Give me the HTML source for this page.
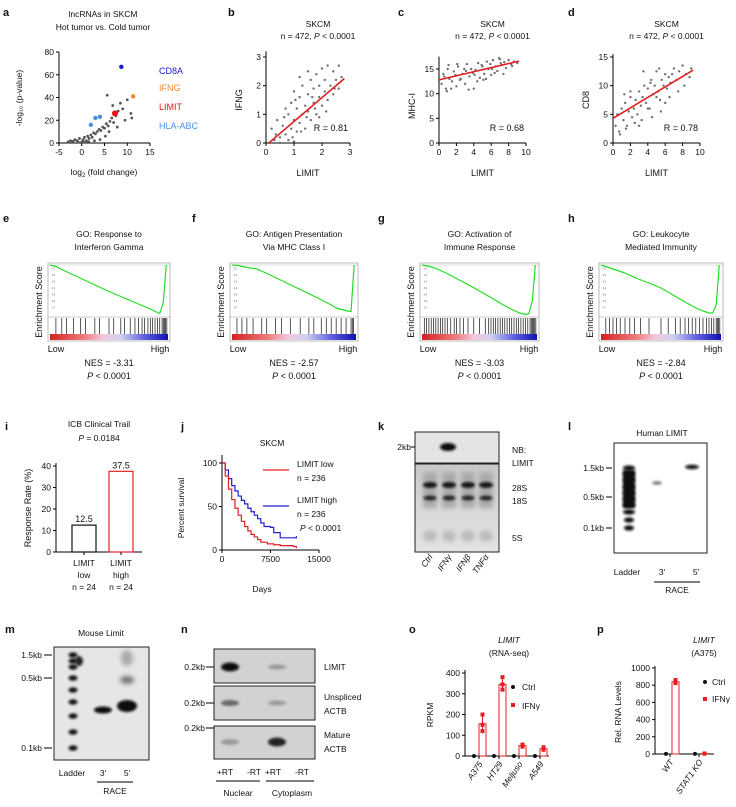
<!DOCTYPE html>
<html><head><meta charset="utf-8"><style>
body{margin:0;background:#fff}
svg{display:block;font-family:"Liberation Sans",Arial,sans-serif}
</style></head><body>
<svg id="fig" width="736" height="807" viewBox="0 0 736 807" xmlns="http://www.w3.org/2000/svg">
<defs>
<filter id="blur1" x="-50%" y="-50%" width="200%" height="200%"><feGaussianBlur stdDeviation="1.2"/></filter>
<filter id="blur2" x="-50%" y="-50%" width="200%" height="200%"><feGaussianBlur stdDeviation="2.5"/></filter>
<linearGradient id="rankbar" x1="0" x2="1" y1="0" y2="0">
<stop offset="0" stop-color="#d42020"/><stop offset="0.3" stop-color="#ee8080"/><stop offset="0.45" stop-color="#f2c8dc"/><stop offset="0.6" stop-color="#d0d0f0"/><stop offset="0.8" stop-color="#6060e0"/><stop offset="1" stop-color="#1010b0"/>
</linearGradient>
<linearGradient id="gelbg" x1="0" x2="0" y1="0" y2="1">
<stop offset="0" stop-color="#c8c8c8"/><stop offset="0.5" stop-color="#d8d8d8"/><stop offset="1" stop-color="#e4e4e4"/>
</linearGradient>
</defs>
</svg>
<script>
// ---------- data ----------
const volX=[-3,-2.5,-2,-1.5,-1,-0.5,0,0.3,0.6,1,1.3,1.6,2,2.3,2.6,3,3.4,3.8,4.2,4.6,5,5.4,5.8,6.2,6.6,7,7.5,8,8.5,9,9.5,10,11,-1.8,-0.8,0.5,1.5,2.8,4,5.2,6,7.8,10.8,5.6,6.8];
const volY=[1,2,1.5,3,2,4,1,3,5,2,6,4,7,5,9,8,10,12,11,14,13,17,15,19,22,18,24,28,35,30,20,38,22,0.5,1,0.6,1.2,2,3,6,10,14,26,42,33];
const hlX=[8.7,11.3,7.3,2,3,4];
const hlY=[67,41,26,16,22,23];
const hlC=['#1a1acc','#f08a30','#e8141c','#4a90e2','#4a90e2','#4a90e2'];
const bX=[0.2,0.3,0.4,0.5,0.6,0.7,0.8,0.8,0.9,0.9,1.0,1.0,1.1,1.1,1.2,1.2,1.3,1.3,1.4,1.4,1.5,1.5,1.6,1.6,1.7,1.7,1.8,1.8,1.9,1.9,2.0,2.0,2.1,2.1,2.2,2.3,2.4,2.4,2.5,2.6,2.6,2.7,0.15,0.5,1.0,1.2,0.7,1.5,1.9,2.2,0.35,0.65,1.05,1.45,1.75,2.15,2.45,0.95,1.25,1.65];
const bY=[0.5,0.1,0.8,0.2,0.6,0.3,1.0,0.1,0.5,1.4,0.8,1.8,0.4,1.2,1.6,0.7,1.0,2.0,1.3,0.5,1.7,1.1,0.8,2.2,1.4,1.9,1.0,2.4,1.6,2.0,1.3,2.6,1.8,2.2,1.5,2.0,2.5,1.7,2.2,2.7,1.9,2.3,0.0,0.0,0.05,2.3,1.2,2.5,0.9,2.7,0.3,0.9,1.5,0.9,1.2,1.1,1.9,0.2,0.4,1.6];
const cX=[0.3,0.5,0.8,1,1.2,1.5,1.7,2,2.2,2.5,2.7,3,3.2,3.5,3.7,4,4.2,4.5,4.7,5,5.2,5.5,5.7,6,6.2,6.5,6.7,7,7.2,7.5,7.7,8,8.3,8.6,9,0.6,1.4,2.4,3.4,4.4,5.4,6.4,7.4,8.4,1.1,2.1,3.1,4.1,5.1,6.1,7.1,0.9,1.9,2.9,3.9,4.9,5.9,6.9];
const cY=[12,14,11,15,13,12.5,14.5,11.5,15.5,13,14,12,16,13.5,15,11,14.8,16.2,13.2,15.5,14,16.5,15,13.8,16.8,15.5,14.6,17,15.8,16.4,15.2,16.8,16,16.5,16.2,13.5,11,12.8,10.8,12.5,13,14.2,14,15.6,15.8,16,14.6,13.8,12.8,15,16.2,10.5,13.8,15,14.2,15.8,16,17.2];
const dX=[0.3,0.5,0.7,1,1.2,1.4,1.6,1.8,2,2.2,2.4,2.6,2.8,3,3.2,3.4,3.6,3.8,4,4.2,4.4,4.6,4.8,5,5.2,5.4,5.6,5.8,6,6.2,6.4,6.6,6.8,7,7.3,7.6,8,8.4,8.8,9,0.8,1.5,2.5,3.5,4.5,5.5,6.5,7.5,3,4,5,6,2,1.3,3.3,8.2,4.3,5.3];
const dY=[3,5,2,6,4,7,3,5.5,8,4.5,6,7.5,5,9,6.5,8,10,7,9.5,6,11,8.5,10,12.5,9,7.5,11,10,12,9.5,11.5,10.5,12,13,11,12.5,13.5,12,11.5,13,1.5,2.5,3.5,12.5,4.5,5.5,8,9,3,6,8,7,9,8.5,4,10,10.5,13];
const bFit=[0.1,0,2.8,2.25], cFit=[0,12.8,9.2,16.6], dFit=[0,4.3,9.2,12.7];
const gsX=[0,0.05,0.1,0.2,0.3,0.4,0.5,0.6,0.7,0.8,0.85,0.9,0.93,0.96,0.985];
const esE=[0,-0.03,-0.09,-0.2,-0.31,-0.42,-0.53,-0.63,-0.73,-0.83,-0.88,-0.94,-0.97,-0.75,0];
const esF=[0,-0.01,-0.04,-0.08,-0.19,-0.31,-0.43,-0.55,-0.67,-0.8,-0.87,-0.9,-0.92,-0.93,0];
const esG=[0,-0.02,-0.05,-0.15,-0.27,-0.39,-0.52,-0.65,-0.79,-0.91,-0.96,-0.99,-0.97,-0.7,0];
const esH=[0,-0.04,-0.08,-0.16,-0.27,-0.36,-0.46,-0.6,-0.74,-0.87,-0.92,-0.96,-0.96,-0.8,0];
const hitE=[0.05,0.1,0.14,0.2,0.26,0.3,0.38,0.42,0.5,0.54,0.6,0.63,0.68,0.72,0.75,0.78,0.8,0.83,0.85,0.87,0.89,0.91,0.93,0.95,0.96,0.97,0.98,0.99];
const hitF=[0.04,0.08,0.12,0.17,0.24,0.28,0.35,0.4,0.47,0.55,0.62,0.66,0.72,0.76,0.8,0.84,0.88,0.92,0.96,0.97,0.98];
const hitG=[0.02,0.04,0.06,0.08,0.1,0.12,0.14,0.16,0.18,0.2,0.22,0.25,0.28,0.3,0.33,0.36,0.4,0.45,0.5,0.55,0.58,0.6,0.62,0.64,0.66,0.68,0.7,0.72,0.74,0.76,0.78,0.8,0.82,0.84,0.86,0.88,0.9,0.92,0.94,0.95,0.96,0.97,0.98,0.99];
const hitH=[0.04,0.07,0.1,0.13,0.16,0.2,0.24,0.28,0.33,0.4,0.5,0.56,0.62,0.66,0.7,0.73,0.76,0.79,0.82,0.85,0.88,0.9,0.92,0.94,0.96,0.97,0.98,0.99];
const icbCats=['low','high'];
const icbVals=[12.5,37.5];
const kmLowT=[0,500,1000,1500,2000,2500,3000,3500,4000,4500,5000,5500,6000,7000,8000,9000,11000,11500];
const kmLowS=[100,85,70,58,48,40,33,27,22,18,15,12,9,7,6,5,4,2];
const kmHighT=[0,500,1000,1500,2000,2500,3000,3500,4000,4500,5000,5500,6000,6500,7500,8000,9000,11500];
const kmHighS=[100,92,82,74,68,62,57,53,48,44,40,36,31,27,26,20,14,16];
const oCats=['A375','HT29','Meljuso','A549'];
const oIfnMean=[155,345,50,35];
const oIfnPts=[[200,150,120],[380,345,320],[55,48,45],[42,35,30]];
const oCtrl=[0,0,0,0];
const pCats=['WT','STAT1 KO'];
const pIfnMean=[840,5];
const pIfnPts=[[860,850,825],[5,6,4]];
const pCtrl=[1,1];

// ---------- helpers ----------
const NS='http://www.w3.org/2000/svg';
const svg=document.getElementById('fig');
function mk(tag,attrs,name,parent){
  const el=document.createElementNS(NS,tag);
  for(const k in attrs) el.setAttribute(k,attrs[k]);
  
  
  (parent||svg).appendChild(el);return el;
}
function T(x,y,s,name,o){
  o=o||{};
  const el=mk('text',{x:x,y:y,'font-size':o.fs||8.5,'text-anchor':o.a||'middle',fill:o.c||'#111','font-weight':o.b?'bold':'normal','font-style':o.i?'italic':'normal'},name);
  if(o.rot!==undefined) el.setAttribute('transform','rotate('+o.rot+' '+x+' '+y+')');
  el.textContent=s;return el;
}
function L(x1,y1,x2,y2,name,c,w){return mk('line',{x1:x1,y1:y1,x2:x2,y2:y2,stroke:c||'#000','stroke-width':w||1},name);}
function lin(d0,d1,r0,r1){return v=>r0+(v-d0)/(d1-d0)*(r1-r0);}
function axes(xs,ys,xd,yd,xt,yt,pre){
  const X0=xs(xd[0]),X1=xs(xd[1]),Y0=ys(yd[0]),Y1=ys(yd[1]);
  L(X0,Y0,X1,Y0,pre+'-x-axis');L(X0,Y0,X0,Y1,pre+'-y-axis');
  xt.forEach(v=>{L(xs(v),Y0,xs(v),Y0+3,pre+'-x-tick');T(xs(v),Y0+12,String(v),pre+'-x-tick-label');});
  yt.forEach(v=>{L(X0-3,ys(v),X0,ys(v),pre+'-y-tick');T(X0-5,ys(v)+3,String(v),pre+'-y-tick-label',{a:'end'});});
}
function letter(x,y,s){T(x,y,s,'panel-label-'+s,{a:'start',b:true,fs:11});}

// ---------- a ----------
letter(3,16,'a');
T(103,17,'lncRNAs in SKCM','a-title-1');T(103,30,'Hot tumor vs. Cold tumor','a-title-2');
{const xs=lin(-5,15,59,150),ys=lin(0,80,143,52);
axes(xs,ys,[-5,15],[0,80],[-5,0,5,10,15],[0,20,40,60,80],'a');
volX.forEach((v,i)=>mk('circle',{cx:xs(v),cy:ys(volY[i]),r:1.4,fill:'#555'},'volcano-point'));
hlX.forEach((v,i)=>mk('circle',{cx:xs(v),cy:ys(hlY[i]),r:i==2?3:2.2,fill:hlC[i]},'volcano-highlight'));
const xt=T(104,175,'','a-x-title');xt.innerHTML='log<tspan font-size="6" dy="2">2</tspan><tspan dy="-2"> (fold change)</tspan>';
T(22,98,'-log₁₀ (p-value)','a-y-title',{rot:-90});
[['CD8A','#1a1acc',74],['IFNG','#f08a30',91],['LIMIT','#e8141c',110],['HLA-ABC','#4a90e2',129]].forEach(d=>T(159,d[2],d[0],'legend-entry',{a:'start',c:d[1],fs:9}));}

// ---------- scatter b,c,d ----------
function scatter(lbl,lx,xr,yr,px,py,xt,yt,xs_,ys_,fit,yl,rtxt){
  letter(lx,16,lbl);
  const cx=(px[0]+px[1])/2;
  T(cx+10,27,'SKCM',lbl+'-title');
  const t=T(cx+10,39,'',lbl+'-subtitle');t.innerHTML='n = 472, <tspan font-style="italic">P</tspan> &lt; 0.0001';
  const xs=lin(xr[0],xr[1],px[0],px[1]),ys=lin(yr[0],yr[1],py[0],py[1]);
  axes(xs,ys,[xr[0],xt[xt.length-1]],[yr[0],yr[2]],xt,yt,lbl);
  xs_.forEach((v,i)=>mk('circle',{cx:xs(v),cy:ys(ys_[i]),r:1.2,fill:'#707070'},'scatter-point'));
  L(xs(fit[0]),ys(fit[1]),xs(fit[2]),ys(fit[3]),'regression-line','#e02020',1.6);
  T(px[1]-2,ys(yr[0])-12,rtxt,lbl+'-r-value',{a:'end',fs:9});
  T(cx,176,'LIMIT',lbl+'-x-title',{fs:9});
  T(px[0]-24,(py[0]+py[1])/2,yl,lbl+'-y-title',{rot:-90,fs:9});
}
scatter('b',228,[0,3],[0,3,3.2],[266,350],[143,57],[0,1,2,3],[0,1,2,3],bX,bY,bFit,'IFNG','R = 0.81');
scatter('c',398,[0,10],[0,15,17.5],[439,526],[143,69],[0,2,4,6,8,10],[0,5,10,15],cX,cY,cFit,'MHC-I','R = 0.68');
scatter('d',568,[0,10],[0,15,15.5],[613,700],[143,57],[0,2,4,6,8,10],[0,5,10,15],dX,dY,dFit,'CD8','R = 0.78');

// ---------- GSEA e-h ----------
function gsea(lbl,lx,x0,x1,t1,t2,es,hits,nes){
  letter(lx,222,lbl);
  const cx=(x0+x1)/2;
  T(cx,237,t1,lbl+'-title-1');T(cx,250,t2,lbl+'-title-2');
  mk('rect',{x:x0,y:263,width:x1-x0,height:78,fill:'#fff',stroke:'#aaa','stroke-width':0.8},lbl+'-plot-box');
  L(x0,317,x1,317,lbl+'-divider','#999',0.6);
  const xs=lin(0,1,x0+2,x1-2),ys=lin(0,-1,265,315);
  for(let k=1;k<8;k++)T(x0+3,263+k*6.5,'-0.'+k,lbl+'-es-tick',{fs:2.5,a:'start',c:'#666'});
  L(x0,265,x1,265,lbl+'-zero-line','#bbb',0.5);
  mk('polyline',{points:gsX.map((v,i)=>xs(v)+','+ys(es[i])).join(' '),fill:'none',stroke:'#22dd22','stroke-width':1.2},lbl+'-es-curve');
  hits.forEach(h=>L(xs(h),318,xs(h),334,'hit-mark','#111',0.7));
  mk('rect',{x:x0+2,y:334,width:x1-x0-4,height:6,fill:'url(#rankbar)'},lbl+'-rank-bar');
  T(x0-6,302,'Enrichment Score',lbl+'-y-title',{rot:-90,fs:9});
  T(x0+8,352,'Low',lbl+'-low-label',{fs:9});T(x1-10,352,'High',lbl+'-high-label',{fs:9});
  T(cx,366,'NES = '+nes,lbl+'-nes',{fs:9});
  const p=T(cx,379,'',lbl+'-pvalue',{fs:9});p.innerHTML='<tspan font-style="italic">P</tspan> &lt; 0.0001';
}
gsea('e',3,48,170,'GO: Response to','Interferon Gamma',esE,hitE,'-3.31');
gsea('f',192,230,358,'GO: Antigen Presentation','Via MHC Class I',esF,hitF,'-2.57');
gsea('g',378,420,539,'GO: Activation of','Immune Response',esG,hitG,'-3.03');
gsea('h',568,599,723,'GO: Leukocyte','Mediated Immunity',esH,hitH,'-2.84');

// ---------- i ----------
letter(5,430,'i');
T(99,427,'ICB Clinical Trail','i-title');
{const t=T(99,441,'','i-pvalue');t.innerHTML='<tspan font-style="italic">P</tspan> = 0.0184';
const ys=lin(0,40,552,466);
L(56,552,56,463,'i-y-axis');L(56,552,142,552,'i-x-axis');
[0,10,20,30,40].forEach(v=>{L(53,ys(v),56,ys(v),'i-y-tick');T(51,ys(v)+3,String(v),'i-y-tick-label',{a:'end'});});
const bx=[72,109],bc=['#222','#e83030'];
icbVals.forEach((v,k)=>{mk('rect',{x:bx[k],y:ys(v),width:24,height:552-ys(v),fill:'#fff',stroke:bc[k],'stroke-width':1.3},'bar-'+icbCats[k]);
T(bx[k]+12,ys(v)-3,String(v),'bar-value-label',{fs:9});
L(bx[k]+12,552,bx[k]+12,555,'i-x-tick');
T(bx[k]+12,566,'LIMIT','i-x-label');T(bx[k]+12,578,icbCats[k],'i-x-label');T(bx[k]+12,590,'n = 24','i-x-label');});
T(31,508,'Response Rate (%)','i-y-title',{rot:-90,fs:9});}

// ---------- j ----------
letter(181,430,'j');
T(272,446,'SKCM','j-title');
{const xs=lin(0,15000,222,319),ys=lin(0,100,550,463);
L(222,550,319,550,'j-x-axis');L(222,550,222,455,'j-y-axis');
[0,7500,15000].forEach(v=>{L(xs(v),550,xs(v),553,'j-x-tick');T(xs(v),562,String(v),'j-x-tick-label');});
[0,50,100].forEach(v=>{L(219,ys(v),222,ys(v),'j-y-tick');T(217,ys(v)+3,String(v),'j-y-tick-label',{a:'end'});});
function step(t,s){let p='';t.forEach((v,i)=>{if(i==0)p+=xs(v)+','+ys(s[i]);else p+=' '+xs(v)+','+ys(s[i-1])+' '+xs(v)+','+ys(s[i]);});return p;}
mk('polyline',{points:step(kmHighT,kmHighS),fill:'none',stroke:'#2020d0','stroke-width':1.2},'km-curve-high');
mk('polyline',{points:step(kmLowT,kmLowS),fill:'none',stroke:'#e02020','stroke-width':1.2},'km-curve-low');
L(263,470,289,470,'legend-line-low','#e02020',1.2);L(263,506,289,506,'legend-line-high','#2020d0',1.2);
T(297,467,'LIMIT low','legend-entry',{a:'start'});T(297,481,'n = 236','legend-entry',{a:'start'});
T(297,503,'LIMIT high','legend-entry',{a:'start'});T(297,517,'n = 236','legend-entry',{a:'start'});
const p=T(300,531,'','j-pvalue',{a:'start'});p.innerHTML='<tspan font-style="italic">P</tspan> &lt; 0.0001';
T(262,592,'Days','j-x-title');T(184,508,'Percent survival','j-y-title',{rot:-90});}

// ---------- k ----------
letter(378,430,'k');
mk('rect',{x:415,y:432,width:84,height:31,fill:'#e4e4e4',stroke:'#222'},'k-northern-blot');
mk('ellipse',{cx:448,cy:447,rx:8,ry:4,fill:'#111',filter:'url(#blur1)'},'k-limit-band');
T(411,450,'2kb','k-size-label',{a:'end'});L(411,447,415,447,'k-size-tick');
T(512,453,'NB:','k-nb-label',{a:'start'});T(512,466,'LIMIT','k-nb-label',{a:'start'});
mk('rect',{x:415,y:464,width:84,height:88,fill:'url(#gelbg)',stroke:'#222'},'k-rrna-gel');
[430,449,468,486].forEach(x=>{
  mk('rect',{x:x-7,y:472,width:14,height:36,fill:'#aaa',filter:'url(#blur2)'},'k-smear');
  mk('ellipse',{cx:x,cy:485,rx:7,ry:3,fill:'#151515',filter:'url(#blur1)'},'k-28s-band');
  mk('ellipse',{cx:x,cy:498,rx:6.5,ry:2.5,fill:'#252525',filter:'url(#blur1)'},'k-18s-band');
  mk('ellipse',{cx:x,cy:536,rx:7,ry:6,fill:'#bcbcbc',filter:'url(#blur2)'},'k-5s-band');});
T(512,491,'28S','k-28s-label',{a:'start'});T(512,504,'18S','k-18s-label',{a:'start'});T(512,541,'5S','k-5s-label',{a:'start'});
[['Ctrl',430],['IFNγ',449],['IFNβ',468],['TNFα',486]].forEach(d=>T(d[1]+3,557,d[0],'k-lane-label',{a:'end',i:true,rot:-55}));

// ---------- l ----------
letter(568,430,'l');
T(662,436,'Human LIMIT','l-title');
mk('rect',{x:614,y:443,width:93,height:110,fill:'#fff',stroke:'#222'},'l-gel');
[468,474,480,487,493,499,505,512,520,528].forEach((y,i)=>mk('ellipse',{cx:629,cy:y,rx:i>7?5:6,ry:2.6,fill:'#0a0a0a',filter:'url(#blur1)'},'l-ladder-band'));
mk('rect',{x:623,y:470,width:12,height:38,fill:'#111',filter:'url(#blur1)'},'l-ladder-smear');
mk('ellipse',{cx:657,cy:483,rx:5,ry:1.8,fill:'#777',filter:'url(#blur1)'},'l-3race-band');
mk('ellipse',{cx:692,cy:467,rx:7,ry:2.2,fill:'#111',filter:'url(#blur1)'},'l-5race-band');
[['1.5kb',468],['0.5kb',497],['0.1kb',528]].forEach(d=>{T(604,d[1]+3,d[0],'l-size-label',{a:'end'});L(606,d[1],612,d[1],'l-size-tick');});
T(627,575,'Ladder','l-lane-label');T(662,575,"3'",'l-lane-label');T(696,575,"5'",'l-lane-label');
L(654,582,700,582,'l-race-bracket');T(677,593,'RACE','l-race-label');

// ---------- m ----------
letter(5,633,'m');
T(101,636,'Mouse Limit','m-title');
mk('rect',{x:54,y:647,width:95,height:113,fill:'#e6e6e6',stroke:'#222'},'m-gel');
[655,661,667,678,690,702,716,732,748].forEach(y=>mk('ellipse',{cx:73,cy:y,rx:4.5,ry:2.6,fill:'#111',filter:'url(#blur1)'},'m-ladder-band'));
mk('ellipse',{cx:79,cy:661,rx:4,ry:5,fill:'#222',filter:'url(#blur1)'},'m-ladder-top');
mk('ellipse',{cx:103,cy:710,rx:9,ry:3.5,fill:'#111',filter:'url(#blur1)'},'m-3race-band');
mk('ellipse',{cx:127,cy:706,rx:10,ry:6,fill:'#0a0a0a',filter:'url(#blur1)'},'m-5race-band');
mk('ellipse',{cx:127,cy:680,rx:7,ry:4,fill:'#777',filter:'url(#blur2)'},'m-5race-smear');
mk('ellipse',{cx:127,cy:658,rx:6,ry:8,fill:'#aaa',filter:'url(#blur2)'},'m-5race-smear-top');
[['1.5kb',655],['0.5kb',678],['0.1kb',748]].forEach(d=>{T(42,d[1]+3,d[0],'m-size-label',{a:'end'});L(44,d[1],52,d[1],'m-size-tick');});
T(72,776,'Ladder','m-lane-label');T(103,776,"3'",'m-lane-label');T(127,776,"5'",'m-lane-label');
L(97,782,133,782,'m-race-bracket');T(115,794,'RACE','m-race-label');

// ---------- n ----------
letter(181,633,'n');
[[649,683,'#0a0a0a','#999','LIMIT',''],[686,720,'#666','#999','Unspliced','ACTB'],[726,759,'#999','#222','Mature','ACTB']].forEach((b,k)=>{
  mk('rect',{x:214,y:b[0],width:101,height:b[1]-b[0],fill:'#d2d2d2',stroke:'#222'},'n-gel-'+k);
  const cy=k==0?667:(k==1?703:742);
  mk('ellipse',{cx:230,cy:cy,rx:9,ry:k==0?4.5:3,fill:b[2],filter:'url(#blur1)'},'n-band-nuclear');
  mk('ellipse',{cx:277,cy:cy,rx:9,ry:k==2?4.5:2.5,fill:b[3],filter:'url(#blur1)'},'n-band-cytoplasm');
  const ly=k==0?670:(k==1?702:740);
  T(324,b[5]?ly-2:ly,b[4],'n-row-label',{a:'start'});if(b[5])T(324,ly+12,b[5],'n-row-label',{a:'start'});
  const sy=k==0?667:(k==1?703:728);
  T(205,sy+3,'0.2kb','n-size-label',{a:'end'});L(206,sy,214,sy,'n-size-tick');});
T(225,775,'+RT','n-lane-label');T(254,775,'-RT','n-lane-label');T(273,775,'+RT','n-lane-label');T(302,775,'-RT','n-lane-label');
L(216,781,260,781,'n-bracket');L(266,781,314,781,'n-bracket');
T(238,796,'Nuclear','n-group-label');T(292,796,'Cytoplasm','n-group-label');

// ---------- o ----------
letter(409,633,'o');
T(509,643,'LIMIT','o-title',{i:true});T(509,656,'(RNA-seq)','o-subtitle');
{const ys=lin(0,400,756,673),cx=[479,499,519,540];
L(465,756,465,670,'o-y-axis');L(465,756,549,756,'o-x-axis');
[0,100,200,300,400].forEach(v=>{L(462,ys(v),465,ys(v),'o-y-tick');T(460,ys(v)+3,String(v),'o-y-tick-label',{a:'end'});});
oCats.forEach((c,k)=>{
  mk('rect',{x:cx[k],y:ys(oIfnMean[k]),width:7,height:756-ys(oIfnMean[k]),fill:'#fff',stroke:'#e02020','stroke-width':1},'bar-ifng-'+c);
  const pts=oIfnPts[k];L(cx[k]+3.5,ys(Math.max(...pts)),cx[k]+3.5,ys(Math.min(...pts)),'error-bar','#e02020');
  pts.forEach(v=>mk('rect',{x:cx[k]+1.5,y:ys(v)-2,width:4,height:4,fill:'#e02020'},'point-ifng'));
  mk('circle',{cx:cx[k]-5,cy:ys(oCtrl[k]),r:2,fill:'#111'},'point-ctrl');
  L(cx[k],756,cx[k],759,'o-x-tick');
  T(cx[k]+4,764,c,'o-x-label',{a:'end',rot:-55,i:true});});
mk('circle',{cx:513,cy:687,r:2,fill:'#111'},'legend-ctrl-marker');T(522,690,'Ctrl','legend-entry',{a:'start'});
mk('rect',{x:511,y:703,width:4,height:4,fill:'#e02020'},'legend-ifng-marker');T(522,709,'IFNγ','legend-entry',{a:'start'});
T(433,715,'RPKM','o-y-title',{rot:-90});}

// ---------- p ----------
letter(597,633,'p');
T(704,643,'LIMIT','p-title',{i:true});T(704,656,'(A375)','p-subtitle');
{const ys=lin(0,1000,754,668),cx=[670,699];
L(655,754,655,666,'p-y-axis');L(655,754,714,754,'p-x-axis');
[0,200,400,600,800,1000].forEach(v=>{L(652,ys(v),655,ys(v),'p-y-tick');T(650,ys(v)+3,String(v),'p-y-tick-label',{a:'end'});});
pCats.forEach((c,k)=>{
  mk('rect',{x:cx[k]+2,y:ys(pIfnMean[k]),width:7,height:754-ys(pIfnMean[k]),fill:'#fff',stroke:'#e02020','stroke-width':1},'bar-ifng-'+c);
  pIfnPts[k].forEach(v=>mk('rect',{x:cx[k]+3.5,y:ys(v)-2,width:4,height:4,fill:'#e02020'},'point-ifng'));
  mk('circle',{cx:cx[k]-4,cy:ys(pCtrl[k]),r:2,fill:'#111'},'point-ctrl');
  L(cx[k],754,cx[k],757,'p-x-tick');
  T(cx[k]+4,762,c,'p-x-label',{a:'end',rot:-55,i:true});});
mk('circle',{cx:705,cy:682,r:2,fill:'#111'},'legend-ctrl-marker');T(712,685,'Ctrl','legend-entry',{a:'start'});
mk('rect',{x:703,y:697,width:4,height:4,fill:'#e02020'},'legend-ifng-marker');T(712,702,'IFNγ','legend-entry',{a:'start'});
T(621,712,'Rel. RNA Levels','p-y-title',{rot:-90});}
</script>
</body></html>
